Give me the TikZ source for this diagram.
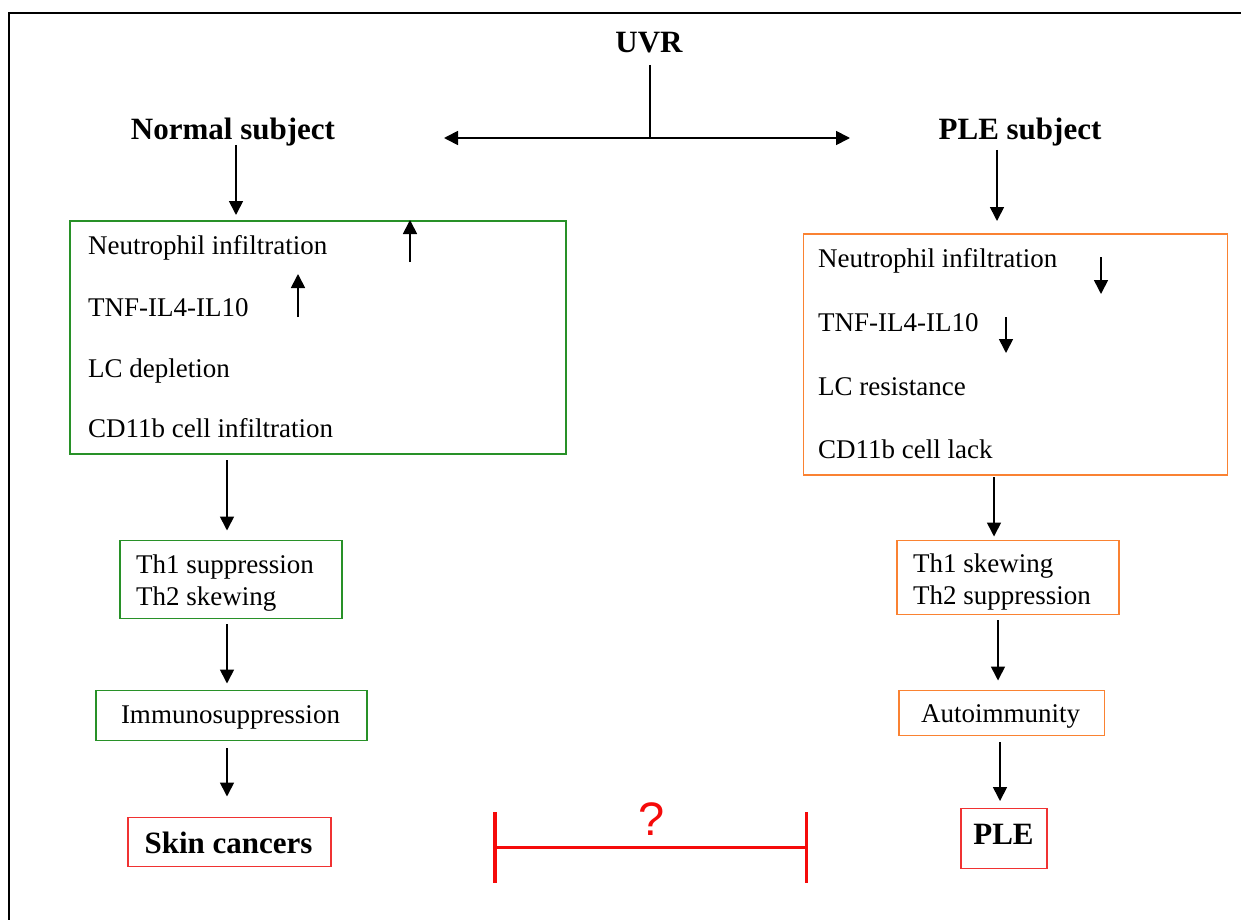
\documentclass[tikz,border=0pt]{standalone}
\usepackage{fontspec}
\setmainfont{Liberation Serif}
\newfontfamily\qfont{Liberation Sans}
\usetikzlibrary{arrows.meta}
\definecolor{gboxc}{RGB}{40,145,40}
\definecolor{oboxc}{RGB}{250,130,50}
\definecolor{rboxc}{RGB}{240,50,50}
\definecolor{barc}{RGB}{245,10,10}
\begin{document}
\begin{tikzpicture}[x=1pt,y=-1pt,
  arr/.style={line width=1.7pt,-{Triangle[width=14pt,length=14pt]}},
  plain/.style={line width=1.7pt},
  title/.style={font=\fontsize{31}{34}\selectfont\bfseries,inner sep=0pt},
  txt/.style={font=\fontsize{27}{30}\selectfont,inner sep=0pt},
  boxbase/.style={line width=1.5pt,inner sep=0pt,anchor=north west},
  gbox/.style={boxbase,draw=gboxc},
  obox/.style={boxbase,draw=oboxc},
  rbox/.style={boxbase,draw=rboxc},
  redbar/.style={line width=3.5pt,draw=barc}]
\useasboundingbox (0,0) rectangle (1241,920);
% frame
\draw[line width=2.5pt] (9,920) -- (9,13) -- (1241,13);

% titles
\node[title,anchor=base] (uvr) at (649,53) {UVR};
\node[title,anchor=base] (normal) at (233,140) {Normal subject};
\node[title,anchor=base] (plesub) at (1020,140) {PLE subject};

% UVR split
\coordinate (uvrtop) at (650,65);
\coordinate (uvrfoot) at (650,138);
\coordinate (leftend) at (444,138);
\coordinate (rightend) at (850,138);
\draw[plain] (uvrtop) -- (uvrfoot);
\draw[arr] (uvrfoot) -- (leftend);
\draw[arr] (uvrfoot) -- (rightend);

% ---------- left column ----------
\node[gbox,minimum width=496,minimum height=233] (gb1) at (69,220) {};
\node[txt,anchor=base west] (l1) at (88,254) {Neutrophil infiltration};
\node[txt,anchor=base west] (l2) at (88,316) {TNF-IL4-IL10};
\node[txt,anchor=base west] (l3) at (88,377) {LC depletion};
\node[txt,anchor=base west] (l4) at (88,437) {CD11b cell infiltration};
\coordinate (u1b) at (410,262); \coordinate (u1t) at (410,220);
\coordinate (u2b) at (298,317); \coordinate (u2t) at (298,274);
\draw[arr] (u1b) -- (u1t);
\draw[arr] (u2b) -- (u2t);

\node[gbox,minimum width=222,minimum height=78] (gb2) at (119,539.5) {};
\node[txt,anchor=base west] (l5) at (136,573) {Th1 suppression};
\node[txt,anchor=base west] (l6) at (136,605) {Th2 skewing};

\node[gbox,minimum width=271,minimum height=50] (gb3) at (95,689.5) {};
\node[txt,anchor=base] (l7) at (230.5,723) {Immunosuppression};

\node[rbox,minimum width=203,minimum height=49] (rb1) at (127,816.5) {};
\node[title,anchor=base] (l8) at (228.5,853) {Skin cancers};

\coordinate (a1) at (236,145);
\draw[arr] (a1) -- ([yshift=5pt]a1 |- gb1.north);
\coordinate (a2) at (227,460);
\draw[arr] (a2) -- ([yshift=9pt]a2 |- gb2.north);
\coordinate (a3) at (227,624);
\draw[arr] (a3) -- ([yshift=6pt]a3 |- gb3.north);
\coordinate (a4) at (227,748);
\draw[arr] (a4) -- ([yshift=20pt]a4 |- rb1.north);

% ---------- right column ----------
\node[obox,minimum width=424,minimum height=241] (ob1) at (802.5,233) {};
\node[txt,anchor=base west] (r1) at (818,267) {Neutrophil infiltration};
\node[txt,anchor=base west] (r2) at (818,331) {TNF-IL4-IL10};
\node[txt,anchor=base west] (r3) at (818,395) {LC resistance};
\node[txt,anchor=base west] (r4) at (818,458) {CD11b cell lack};
\coordinate (d1t) at (1101,257); \coordinate (d1b) at (1101,294);
\coordinate (d2t) at (1006,317); \coordinate (d2b) at (1006,353);
\draw[arr] (d1t) -- (d1b);
\draw[arr] (d2t) -- (d2b);

\node[obox,minimum width=222,minimum height=74] (ob2) at (896,539.5) {};
\node[txt,anchor=base west] (r5) at (913,572) {Th1 skewing};
\node[txt,anchor=base west] (r6) at (913,604) {Th2 suppression};

\node[obox,minimum width=205.5,minimum height=45] (ob3) at (898,689.5) {};
\node[txt,anchor=base] (r7) at (1000.5,722) {Autoimmunity};

\node[rbox,minimum width=86,minimum height=60] (rb2) at (960,807.5) {};
\node[title,anchor=base] (r8) at (1003.5,844) {PLE};

\coordinate (b1) at (997,150);
\draw[arr] (b1) -- ([yshift=12pt]b1 |- ob1.north);
\coordinate (b2) at (994,477);
\draw[arr] (b2) -- ([yshift=3pt]b2 |- ob2.north);
\coordinate (b3) at (998,620);
\draw[arr] (b3) -- ([yshift=9pt]b3 |- ob3.north);
\coordinate (b4) at (1000,742);
\draw[arr] (b4) -- ([yshift=6.5pt]b4 |- rb2.north);

% ---------- red bar ----------
\coordinate (bl) at (495,847.5);
\coordinate (br) at (806.5,847.5);
\draw[redbar] (bl) -- (br);
\draw[redbar] ([yshift=35.5pt]bl) -- ([yshift=-35.5pt]bl);
\draw[redbar] ([yshift=35.5pt]br) -- ([yshift=-35.5pt]br);
\node[font=\fontsize{47}{50}\selectfont\qfont,text=barc,inner sep=0pt,anchor=base] (q) at (651.5,835) {?};
\end{tikzpicture}
\end{document}
